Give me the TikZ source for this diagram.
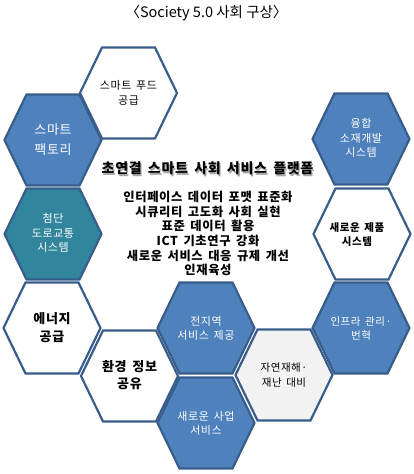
\documentclass[tikz,border=0pt]{standalone}
\usepackage{fontspec}
\setmainfont[LetterSpace=5,WordSpace=1.6]{Noto Sans CJK KR}
\newfontfamily\titlefont{Noto Sans CJK KR}
\definecolor{hexblue}{HTML}{4F81BD}
\definecolor{hexedge}{HTML}{385D8A}
\definecolor{hexteal}{HTML}{31859C}
\definecolor{hexgray}{HTML}{F2F2F2}
\tikzset{
  hexa/.pic={\path[pic actions] (-48.5,0) -- (-26.5,-45.5) -- (26.5,-45.5) -- (48.5,0) -- (26.5,45.5) -- (-26.5,45.5) -- cycle;},
  hexbase/.style={draw=hexedge, line width=2.2pt, line join=miter},
  hexb/.style={hexbase, fill=hexblue},
  hexw/.style={hexbase, fill=white},
  hext/.style={hexbase, fill=hexteal},
  hexg/.style={hexbase, fill=hexgray},
  wtxt/.style={text=white, align=center, inner sep=0pt},
  ktxt/.style={text=black, align=center, inner sep=0pt},
}
\begin{document}
\begin{tikzpicture}[x=1pt,y=-1pt]
\useasboundingbox (0,0) rectangle (413,474);
% title
\node[inner sep=0pt, font=\titlefont\fontsize{14.5}{16}\selectfont] (title) at (206.5,13) {〈Society 5.0 사회 구상〉};
% hexagons
\pic[hexw] at (128.5,93) {hexa};
\pic[hexb] at (53,140) {hexa};
\pic[hexb] at (361,139) {hexa};
\pic[hext] at (53,234) {hexa};
\pic[hexw] at (362,234) {hexa};
\pic[hexw] at (52,328) {hexa};
\pic[hexb] at (206,328) {hexa};
\pic[hexb] at (361,328) {hexa};
\pic[hexw] at (129.5,376) {hexa};
\pic[hexg] at (284,375) {hexa};
\pic[hexb] at (206,423) {hexa};
% hexagon texts
\node[ktxt, font=\fontsize{11}{15}\selectfont] (food) at (128.5,93) {스마트 푸드\\공급};
\node[wtxt, font=\fontsize{13}{20}\selectfont] (factory) at (53,140) {스마트\\팩토리};
\node[wtxt, font=\fontsize{11}{14.5}\selectfont] (material) at (361,138) {융합\\소재개발\\시스템};
\node[wtxt, font=\fontsize{11}{14.5}\selectfont] (traffic) at (53,233) {첨단\\도로교통\\시스템};
\node[ktxt, font=\fontsize{10.5}{13.5}\selectfont\bfseries] (product) at (357,234.5) {새로운 제품\\시스템};
\node[ktxt, font=\fontsize{13}{18}\selectfont\bfseries] (energy) at (52,328) {에너지\\공급};
\node[wtxt, font=\fontsize{11}{13.5}\selectfont] (region) at (206,328.5) {전지역\\서비스 제공};
\node[wtxt, font=\fontsize{10.5}{13.5}\selectfont] (infra) at (361,328.5) {인프라 관리·\\번혁};
\node[ktxt, font=\fontsize{13}{16.5}\selectfont\bfseries] (env) at (129.5,375) {환경 정보\\공유};
\node[ktxt, font=\fontsize{10.5}{15.5}\selectfont] (disaster) at (284,375) {자연재해·\\재난 대비};
\node[wtxt, font=\fontsize{11}{13.5}\selectfont] (biz) at (206,423.5) {새로운 사업\\서비스};
% central platform text
\node[inner sep=0pt, text=black!35, font=\fontsize{14}{16}\selectfont\bfseries] (platshadow) at (208.8,169.8) {초연결 스마트 사회 서비스 플랫폼};
\node[inner sep=0pt, font=\fontsize{14}{16}\selectfont\bfseries] (platform) at (207.5,168.5) {초연결 스마트 사회 서비스 플랫폼};
\node[ktxt, font=\fontsize{12.3}{14.7}\selectfont\bfseries] (items) at (208,233.5) {인터페이스 데이터 포맷 표준화\\시큐리티 고도화 사회 실현\\표준 데이터 활용\\ICT 기초연구 강화\\새로운 서비스 대응 규제 개선\\인재육성};
\end{tikzpicture}
\end{document}
